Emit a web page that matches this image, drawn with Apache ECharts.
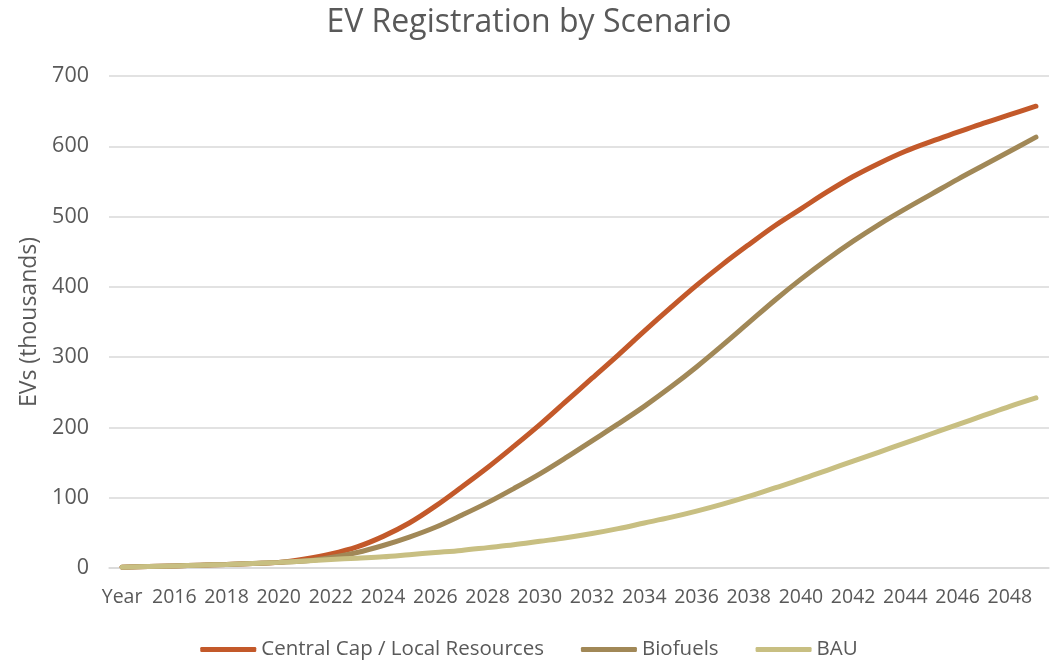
<!DOCTYPE html>
<html>
<head>
<meta charset="utf-8">
<title>EV Registration by Scenario</title>
<script src="https://cdn.jsdelivr.net/npm/echarts@6/dist/echarts.min.js"></script>
<style>
  html, body { margin: 0; padding: 0; background: #fff; }
  #main { width: 1058px; height: 668px; }
</style>
</head>
<body>
<div id="main"></div>
<script>
// categories (first row of the sheet is the "Year" header)
var years = ['Year', '2015', '2016', '2017', '2018', '2019', '2020', '2021', '2022', '2023',
    '2024', '2025', '2026', '2027', '2028', '2029', '2030', '2031', '2032', '2033',
    '2034', '2035', '2036', '2037', '2038', '2039', '2040', '2041', '2042', '2043',
    '2044', '2045', '2046', '2047', '2048', '2049'];

// EVs (thousands)
var centralCap = [1, 2, 3, 4, 5, 6.5, 8, 13, 20, 30,
    45, 64, 88, 115, 143, 173, 204, 237, 270, 303,
    337, 370, 402, 432, 460, 487, 511, 535, 557, 576,
    593, 607, 620, 633, 645, 657];
var biofuels = [1, 2, 3, 4, 5, 6.5, 8, 10, 15, 22,
    32, 44, 58, 75, 93, 113, 134, 157, 181, 205,
    230, 257, 286, 317, 349, 381, 411, 439, 465, 489,
    511, 532, 553, 573, 593, 613];
var bau = [1, 2, 3, 4, 5, 6.5, 8, 10, 12, 14,
    16, 19, 22, 25, 29, 33, 38, 43, 49, 56,
    64, 72, 81, 91, 102, 114, 126, 139, 152, 165,
    178, 191, 204, 217, 230, 242];

var names = ['Central Cap / Local Resources', 'Biofuels', 'BAU'];
var colors = ['#C3592A', '#A18857', '#C8BF82'];
var textColor = '#595959';
var font = '"Open Sans", "Liberation Sans", sans-serif';

var chart = echarts.init(document.getElementById('main'));

function lineSeries(name, data, color) {
    return {
        name: name,
        type: 'line',
        data: data,
        smooth: 0.35,
        symbol: 'none',
        lineStyle: { width: 5, color: color, cap: 'round' },
        itemStyle: { color: color }
    };
}

chart.setOption({
    animation: false,
    textStyle: { fontFamily: font, color: textColor },
    title: {
        text: 'EV Registration by Scenario',
        left: 'center',
        top: 2,
        textStyle: { fontFamily: font, fontSize: 32, fontWeight: 'normal', color: textColor }
    },
    legend: {
        bottom: 3,
        left: 'center',
        icon: 'roundRect',
        itemWidth: 56,
        itemHeight: 5,
        itemGap: 37,
        textStyle: { fontFamily: font, fontSize: 20.5, color: textColor },
        data: names
    },
    grid: { left: 109, right: 9, top: 76, bottom: 100 },
    xAxis: {
        type: 'category',
        data: years,
        boundaryGap: true,
        axisLine: { lineStyle: { color: '#D9D9D9', width: 1.5 } },
        axisTick: { show: false },
        axisLabel: { interval: 1, fontSize: 19.5, color: textColor, margin: 19, fontFamily: font }
    },
    yAxis: {
        type: 'value',
        min: 0,
        max: 700,
        interval: 100,
        name: 'EVs (thousands)',
        nameLocation: 'middle',
        nameGap: 64,
        nameTextStyle: { fontSize: 23, color: textColor, fontFamily: font },
        axisLine: { show: false },
        axisTick: { show: false },
        axisLabel: { fontSize: 21.5, color: textColor, margin: 20, fontFamily: font },
        splitLine: { lineStyle: { color: '#D9D9D9', width: 1.5 } }
    },
    series: [
        lineSeries(names[0], centralCap, colors[0]),
        lineSeries(names[1], biofuels, colors[1]),
        lineSeries(names[2], bau, colors[2])
    ]
});
</script>
</body>
</html>
